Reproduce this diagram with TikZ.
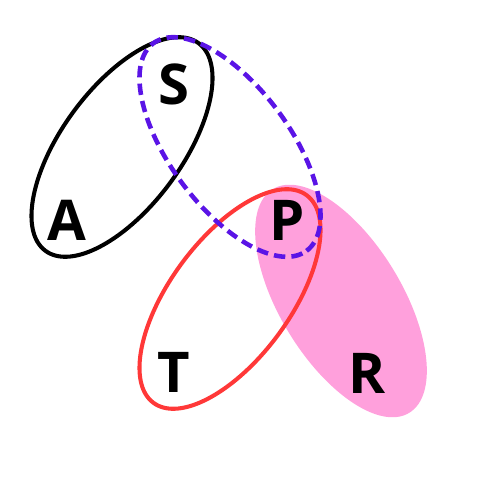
\documentclass[tikz,border=0pt]{standalone}
\usepackage{fontspec}
\setmainfont{Open Sans}
\usetikzlibrary{positioning}
\definecolor{setpink}{RGB}{255,160,220}
\definecolor{setred}{RGB}{255,56,56}
\definecolor{setpurple}{RGB}{90,20,230}
\tikzset{
  ring/.style={line width=2.3pt},
  dashring/.style={line width=2.6pt,dash pattern=on 6.5pt off 3.5pt},
  letter/.style={inner sep=0pt,font=\fontsize{32}{36}\selectfont\bfseries}
}
\begin{document}
\begin{tikzpicture}[x=0.02cm,y=0.02cm]
  \useasboundingbox (0,0) rectangle (500,500);
  \fill[setpink,rotate around={-58.6:(341,199)}] (341,199) ellipse (131 and 61);
  \draw[ring,black,rotate around={53.6:(122,353)}] (122,353) ellipse (129 and 60);
  \draw[ring,setred,rotate around={53.6:(230,201)}] (230,201) ellipse (129 and 60);
  \draw[dashring,setpurple,rotate around={-53.6:(230,353)}] (230,353) ellipse (129 and 60);
  \node[letter] (s) at (173.5,416) {S};
  \node[letter] (a) at (66.5,280) {A};
  \node[letter] (p) at (287,280) {P};
  \node[letter] (t) at (173.5,128) {T};
  \node[letter] (r) at (367.5,127) {R};
\end{tikzpicture}
\end{document}
